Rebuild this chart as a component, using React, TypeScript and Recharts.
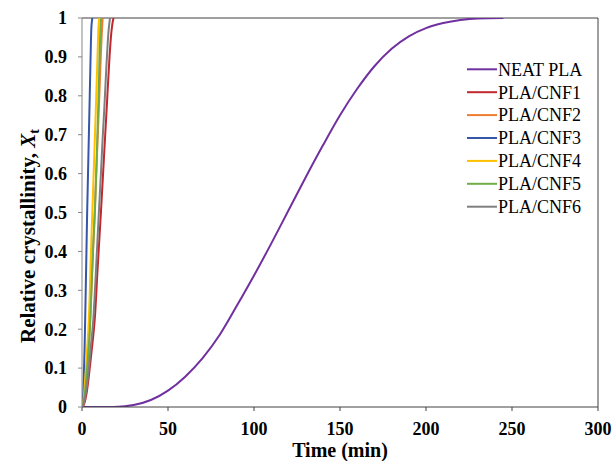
import React from 'react';
import { LineChart, Line, XAxis, YAxis, Legend, Label, ReferenceLine } from 'recharts';

// ---- data ----
const xTicks = [0, 50, 100, 150, 200, 250, 300];
const yTicks = [0, 0.1, 0.2, 0.3, 0.4, 0.5, 0.6, 0.7, 0.8, 0.9, 1];

const neatPLA = [
  { t: 0, x: 0 }, { t: 10, x: 0 }, { t: 18, x: 0 }, { t: 25, x: 0.002 }, { t: 30, x: 0.005 },
  { t: 40, x: 0.018 }, { t: 50, x: 0.042 }, { t: 60, x: 0.078 }, { t: 70, x: 0.125 },
  { t: 80, x: 0.185 }, { t: 90, x: 0.26 }, { t: 100, x: 0.338 }, { t: 110, x: 0.42 },
  { t: 120, x: 0.505 }, { t: 130, x: 0.59 }, { t: 140, x: 0.672 }, { t: 150, x: 0.75 },
  { t: 160, x: 0.818 }, { t: 170, x: 0.876 }, { t: 180, x: 0.921 }, { t: 190, x: 0.953 },
  { t: 200, x: 0.974 }, { t: 210, x: 0.987 }, { t: 220, x: 0.995 }, { t: 230, x: 0.999 },
  { t: 245, x: 1 },
];
const cnf1 = [
  { t: 0, x: 0 }, { t: 1, x: 0.005 }, { t: 2, x: 0.02 }, { t: 3, x: 0.045 }, { t: 4, x: 0.08 },
  { t: 5, x: 0.12 }, { t: 6, x: 0.16 }, { t: 7.5, x: 0.23 }, { t: 9, x: 0.35 }, { t: 11, x: 0.5 },
  { t: 13, x: 0.66 }, { t: 14.5, x: 0.78 }, { t: 16, x: 0.9 }, { t: 17, x: 0.96 }, { t: 17.5, x: 0.98 },
  { t: 18.3, x: 1 },
];
const cnf2 = [
  { t: 0, x: 0 }, { t: 1, x: 0.012 }, { t: 2, x: 0.04 }, { t: 3, x: 0.09 }, { t: 4, x: 0.16 },
  { t: 5, x: 0.25 }, { t: 6, x: 0.36 }, { t: 7, x: 0.46 }, { t: 8, x: 0.57 }, { t: 9, x: 0.68 },
  { t: 10, x: 0.79 }, { t: 11, x: 0.91 }, { t: 11.5, x: 0.96 }, { t: 12, x: 1 },
];
const cnf3 = [
  { t: 0, x: 0 }, { t: 0.5, x: 0.02 }, { t: 1, x: 0.07 }, { t: 1.5, x: 0.15 }, { t: 2, x: 0.26 },
  { t: 2.5, x: 0.38 }, { t: 3, x: 0.5 }, { t: 3.5, x: 0.6 }, { t: 4, x: 0.7 }, { t: 4.5, x: 0.8 },
  { t: 5, x: 0.9 }, { t: 5.4, x: 0.97 }, { t: 6, x: 1 },
];
const cnf4 = [
  { t: 0, x: 0 }, { t: 1, x: 0.025 }, { t: 2, x: 0.08 }, { t: 3, x: 0.15 }, { t: 3.7, x: 0.2 },
  { t: 4.5, x: 0.29 }, { t: 5, x: 0.37 }, { t: 6, x: 0.5 }, { t: 7, x: 0.63 }, { t: 8, x: 0.76 },
  { t: 9, x: 0.9 }, { t: 9.5, x: 0.97 }, { t: 10, x: 1 },
];
const cnf5 = [
  { t: 0, x: 0 }, { t: 1, x: 0.015 }, { t: 2, x: 0.05 }, { t: 3, x: 0.1 }, { t: 4, x: 0.16 },
  { t: 4.6, x: 0.2 }, { t: 5.5, x: 0.3 }, { t: 6.5, x: 0.41 }, { t: 7.5, x: 0.5 }, { t: 8.5, x: 0.63 },
  { t: 9.5, x: 0.78 }, { t: 10.2, x: 0.9 }, { t: 10.7, x: 0.97 }, { t: 11.2, x: 1 },
];
const cnf6 = [
  { t: 0, x: 0 }, { t: 1, x: 0.01 }, { t: 2, x: 0.03 }, { t: 3, x: 0.06 }, { t: 4, x: 0.1 },
  { t: 5, x: 0.15 }, { t: 6.5, x: 0.22 }, { t: 8, x: 0.34 }, { t: 9, x: 0.43 }, { t: 9.8, x: 0.5 },
  { t: 11, x: 0.6 }, { t: 12, x: 0.69 }, { t: 13, x: 0.77 }, { t: 14, x: 0.86 }, { t: 15, x: 0.94 },
  { t: 15.5, x: 0.97 }, { t: 16.3, x: 1 },
];

const seriesNames = ['NEAT PLA', 'PLA/CNF1', 'PLA/CNF2', 'PLA/CNF3', 'PLA/CNF4', 'PLA/CNF5', 'PLA/CNF6'];
const seriesData = [neatPLA, cnf1, cnf2, cnf3, cnf4, cnf5, cnf6];
const seriesColors = ['#7030A0', '#C0282D', '#ED7D31', '#3656A8', '#FFC000', '#70AD47', '#7F7F7F'];

const FONT = "'Liberation Serif', 'Times New Roman', Times, serif";
const tickStyle = {
  fill: '#000',
  fontFamily: FONT,
  fontWeight: 'bold' as const,
  fontSize: 18,
  style: { fontFamily: FONT, fontWeight: 700 },
};

const LegendContent = () => (
  <svg width={145} height={170} style={{ display: 'block', fontFamily: FONT }}>
    {seriesNames.map((n, i) => {
      const y = 14.3 + 22.9 * i;
      return (
        <g key={n}>
          <line x1={7} x2={37} y1={y} y2={y} stroke={seriesColors[i]} strokeWidth={2} />
          <text x={38} y={y} dy="0.35em" fontSize={18} fill="#000" style={{ fontFamily: FONT }}>{n}</text>
        </g>
      );
    })}
  </svg>
);

const YTitle = () => (
  <text
    transform="translate(35,236) rotate(-90)"
    textAnchor="middle"
    fontWeight="bold"
    fontSize={21}
    fill="#000"
    style={{ fontFamily: FONT }}
  >
    Relative crystallinity, <tspan fontStyle="italic">X</tspan>
    <tspan fontSize={14} dy={4}>t</tspan>
  </text>
);

const XTitle = () => (
  <text x={340} y={457} textAnchor="middle" fontWeight="bold" fontSize={20} fill="#000" style={{ fontFamily: FONT }}>
    Time (min)
  </text>
);

export default function App() {
  return (
    <div style={{ position: 'absolute', left: 0, top: 0, width: 613, height: 461, background: '#fff', fontFamily: FONT }}>
      <LineChart width={613} height={461} margin={{ top: 18, right: 15, bottom: 0, left: 0 }} style={{ fontFamily: FONT }}>
        <XAxis
          xAxisId="b"
          dataKey="t"
          type="number"
          domain={[0, 300]}
          ticks={xTicks}
          height={54}
          tickSize={4}
          tickMargin={11}
          tick={tickStyle}
          axisLine={{ stroke: '#404040', strokeWidth: 1 }}
          tickLine={{ stroke: '#404040' }}
          allowDataOverflow
        >
          <Label content={<XTitle />} />
        </XAxis>
        <YAxis
          yAxisId="l"
          type="number"
          domain={[0, 1]}
          ticks={yTicks}
          width={82}
          tickSize={4}
          tickMargin={11}
          tick={tickStyle}
          tickFormatter={(v: number) => String(v)}
          axisLine={{ stroke: '#868686', strokeWidth: 1 }}
          tickLine={{ stroke: '#868686' }}
          allowDataOverflow
        >
          <Label content={<YTitle />} />
        </YAxis>
        <ReferenceLine xAxisId="b" yAxisId="l" y={1} stroke="#404040" strokeWidth={1} />
        <ReferenceLine xAxisId="b" yAxisId="l" x={300} stroke="#404040" strokeWidth={1} />
        <Legend
          verticalAlign="middle"
          align="center"
          layout="vertical"
          content={<LegendContent />}
          wrapperStyle={{ position: 'absolute', left: 460, top: 55, width: 145, height: 170 }}
        />
        {seriesNames.map((n, i) => (
          <Line
            key={n}
            name={n}
            data={seriesData[i]}
            dataKey="x"
            xAxisId="b"
            yAxisId="l"
            type="monotone"
            stroke={seriesColors[i]}
            strokeWidth={2}
            dot={false}
            activeDot={false}
            isAnimationActive={false}
          />
        ))}
      </LineChart>
    </div>
  );
}
